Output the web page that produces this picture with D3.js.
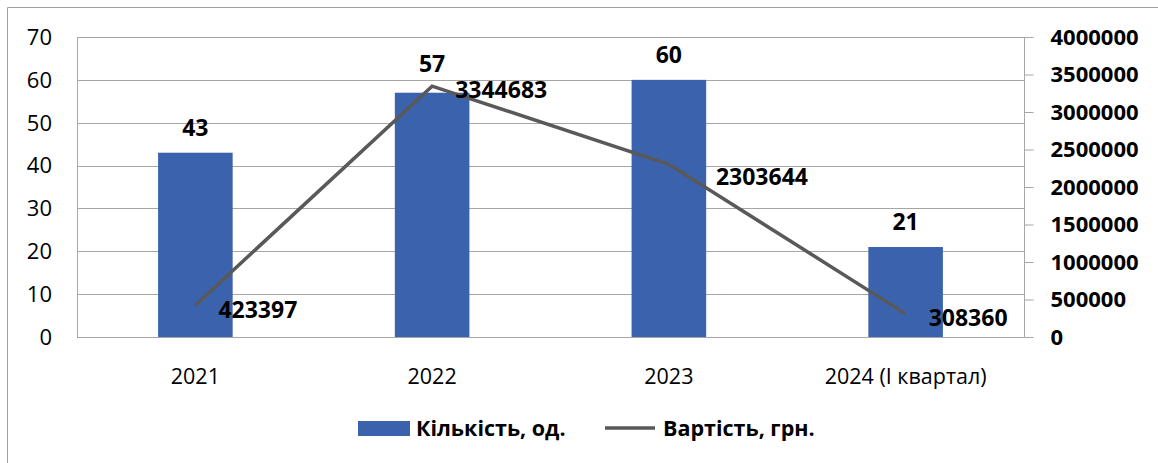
<!DOCTYPE html>
<html><head><meta charset="utf-8">
<script src="https://cdn.jsdelivr.net/npm/d3@7"></script>
<style>
html,body{margin:0;padding:0;background:#fff;}
svg{display:block;font-family:"Open Sans",sans-serif;}
</style></head>
<body><svg id="c" width="1158" height="463"></svg>
<script>
const categories = ["2021", "2022", "2023", "2024 (І квартал)"];
const counts = [43, 57, 60, 21];
const costs = [423397, 3344683, 2303644, 308360];
const leftTicks = [0, 10, 20, 30, 40, 50, 60, 70];
const rightTicks = [0, 500000, 1000000, 1500000, 2000000, 2500000, 3000000, 3500000, 4000000];
const seriesNames = ["Кількість, од.", "Вартість, грн."];

// style / nudges (not data)
const barColor = "#3b63ad", lineColor = "#595959", gridColor = "#a6a6a6";
const barLabelNudge = [0, -4, 0, 0];
const lineLabelNudge = [[0,0],[0,0],[24,8],[0,0]];

const svg = d3.select("#c");
const m = {l:77, r:1024, t:37, b:337};

// outer chart border
svg.append("path").attr("d", `M7.5,463 V7.5 H1158`).attr("fill","none").attr("stroke","#a0a0a0").attr("stroke-width",1);

const x = d3.scaleBand().domain(categories).range([m.l, m.r]).paddingInner(0).paddingOuter(0);
const bw = x.bandwidth()*0.315;
const yL = d3.scaleLinear().domain([0,70]).range([m.b, m.t]);
const yR = d3.scaleLinear().domain([0,4000000]).range([m.b, m.t]);

// gridlines
svg.append("g").selectAll("line").data(leftTicks).join("line")
  .attr("x1", m.l).attr("x2", m.r)
  .attr("y1", d=>Math.round(yL(d))+0.5).attr("y2", d=>Math.round(yL(d))+0.5)
  .attr("stroke", gridColor).attr("stroke-width",1);
// left vertical border
svg.append("line").attr("x1",m.l+0.5).attr("x2",m.l+0.5).attr("y1",m.t).attr("y2",m.b+0.5).attr("stroke",gridColor);

// left axis labels
svg.append("g").selectAll("text").data(leftTicks).join("text")
  .attr("x", 52).attr("y", d=>yL(d)).attr("dy","0.36em")
  .attr("text-anchor","end").attr("font-size",22).attr("fill","#000")
  .text(d=>d);

// right axis
const ra = svg.append("g").attr("transform",`translate(${m.r+0.5},0)`)
  .call(d3.axisRight(yR).tickValues(rightTicks).tickSize(9).tickPadding(17).tickFormat(d3.format("d")));
ra.select(".domain").attr("stroke",gridColor).attr("d",`M0,${m.t}V${m.b+0.5}`);
ra.selectAll(".tick line").attr("stroke",gridColor);
ra.selectAll(".tick text").attr("font-size",22).attr("font-weight","bold").attr("fill","#000")
  .attr("font-family","'Open Sans',sans-serif");

// bars
svg.append("g").selectAll("rect").data(counts).join("rect")
  .attr("x",(d,i)=>x(categories[i])+x.bandwidth()/2-bw/2).attr("width",bw)
  .attr("y",d=>yL(d)).attr("height",d=>yL(0)-yL(d)).attr("fill",barColor);

// x axis line
svg.append("line").attr("x1",m.l).attr("x2",m.r).attr("y1",m.b+0.5).attr("y2",m.b+0.5).attr("stroke",gridColor);

// x labels
svg.append("g").selectAll("text").data(categories).join("text")
  .attr("x",d=>x(d)+x.bandwidth()/2).attr("y",384)
  .attr("text-anchor","middle").attr("font-size",21.5).attr("fill","#000").text(d=>d);

// line
const line = d3.line().x((d,i)=>x(categories[i])+x.bandwidth()/2).y(d=>yR(d));
svg.append("path").datum(costs).attr("d",line).attr("fill","none")
  .attr("stroke",lineColor).attr("stroke-width",3.5);

// bar labels
svg.append("g").selectAll("text").data(counts).join("text")
  .attr("x",(d,i)=>x(categories[i])+x.bandwidth()/2).attr("y",(d,i)=>yL(d)-17+barLabelNudge[i])
  .attr("text-anchor","middle").attr("font-size",23).attr("font-weight","bold").attr("fill","#000").text(d=>d);

// line labels
svg.append("g").selectAll("text").data(costs).join("text")
  .attr("x",(d,i)=>x(categories[i])+x.bandwidth()/2+23+lineLabelNudge[i][0])
  .attr("y",(d,i)=>yR(d)+4+lineLabelNudge[i][1]).attr("dy","0.36em")
  .attr("font-size",23).attr("font-weight","bold").attr("fill","#000").text(d=>d);

// legend
const lg = svg.append("g");
lg.append("rect").attr("x",358).attr("y",421).attr("width",52).attr("height",15).attr("fill",barColor);
lg.append("text").attr("x",416).attr("y",428).attr("dy","0.36em").attr("font-size",21.5).attr("font-weight","bold").text(seriesNames[0]);
lg.append("line").attr("x1",605).attr("x2",655).attr("y1",428).attr("y2",428).attr("stroke",lineColor).attr("stroke-width",3.5);
lg.append("text").attr("x",663).attr("y",428).attr("dy","0.36em").attr("font-size",21.5).attr("font-weight","bold").text(seriesNames[1]);
</script></body></html>
